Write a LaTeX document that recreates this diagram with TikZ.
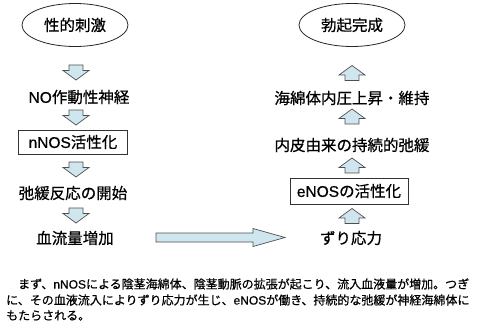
\documentclass[tikz,border=0pt]{standalone}
\usepackage{fontspec}
\setmainfont[FakeBold=0.6]{Noto Sans CJK JP}
\newfontfamily\latinf[FakeBold=0.6]{Liberation Sans}
\usetikzlibrary{shapes.geometric}
\definecolor{arrfill}{HTML}{CFE6EF}
\definecolor{arrline}{HTML}{505050}
\tikzset{
  lbl/.style={inner sep=0pt, font=\fontsize{15.5}{18}\selectfont},
  oval/.style={ellipse, draw=black!85, line width=0.8pt, minimum width=106pt, minimum height=43pt, inner sep=0pt, font=\fontsize{15.5}{18}\selectfont},
  boxed/.style={draw=black!80, line width=0.7pt, inner sep=0pt, font=\fontsize{15.5}{18}\selectfont},
  blockarr/.style={draw=arrline, fill=arrfill, line width=0.7pt, line join=miter},
  para/.style={anchor=west, inner sep=0pt, font=\fontsize{12}{14}\selectfont},
  pics/dnarr/.style={code={\draw[blockarr] (-7,-7.5)--(7,-7.5)--(7,-2)--(13,-2)--(0,7.5)--(-13,-2)--(-7,-2)--cycle;}},
  pics/uparr/.style={code={\draw[blockarr] (-7,7.5)--(7,7.5)--(7,2)--(13,2)--(0,-7.5)--(-13,2)--(-7,2)--cycle;}}
}
\begin{document}
\begin{tikzpicture}[x=1pt,y=-1pt]
\useasboundingbox (0,0) rectangle (477,321);
% left column
\node[oval] (s1) at (75,25) {性的刺激};
\node[lbl] (l1) at (79,97) {{\latinf NO}作動性神経};
\node[boxed, minimum width=109pt, minimum height=24pt] (l2) at (73,142) {{\latinf nNOS}活性化};
\node[lbl] (l3) at (73,193) {弛緩反応の開始};
\node[lbl] (l4) at (75,238) {血流量増加};
\pic at (76,72.5) {dnarr};
\pic at (76,117.5) {dnarr};
\pic at (76,169.5) {dnarr};
\pic at (76,215.5) {dnarr};
% right column
\node[oval] (e1) at (352,25) {勃起完成};
\node[lbl] (r1) at (352,98) {海綿体内圧上昇・維持};
\node[lbl] (r2) at (352,145) {内皮由来の持続的弛緩};
\node[boxed, minimum width=118pt, minimum height=26pt] (r3) at (349,191) {{\latinf eNOS}の活性化};
\node[lbl] (r4) at (351,238) {ずり応力};
\pic at (352,73) {uparr};
\pic at (352,116.5) {uparr};
\pic at (352,165.5) {uparr};
\pic at (352,216) {uparr};
% big arrow
\coordinate (bs) at (156,237.5);
\coordinate (bt) at (285,237.5);
\draw[blockarr] (bs) ++(0,-4.5) -- ++(97,0) -- ++(0,-4.5) -- (bt) -- ++(-32,9) -- ++(0,-4.5) -- ++(-97,0) -- cycle;
% paragraph
\node[para] (p1) at (6,284) {\hspace{12pt}まず、{\latinf nNOS}による陰茎海綿体、陰茎動脈の拡張が起こり、流入血液量が増加。つぎ};
\node[para] (p2) at (6,300) {に、その血液流入によりずり応力が生じ、{\latinf eNOS}が働き、持続的な弛緩が神経海綿体に};
\node[para] (p3) at (6,315.5) {もたらされる。};
\end{tikzpicture}
\end{document}
